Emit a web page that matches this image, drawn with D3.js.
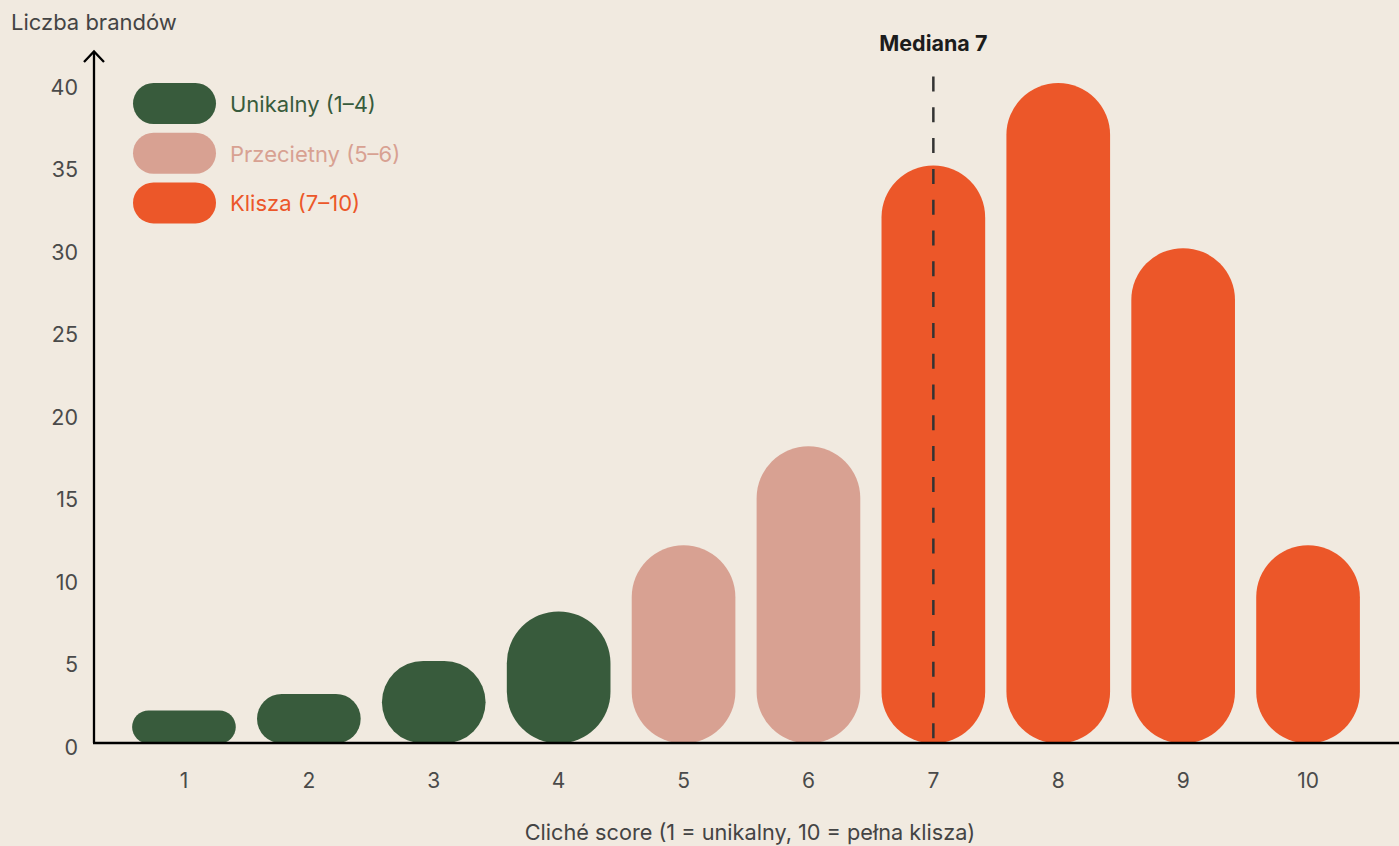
<!DOCTYPE html>
<html>
<head>
<meta charset="utf-8">
<script src="https://cdn.jsdelivr.net/npm/d3@7"></script>
<style>
  html, body { margin: 0; padding: 0; background: #F1EAE0; }
  svg { display: block; font-family: Inter, "Noto Sans", sans-serif; }
</style>
</head>
<body>
<svg id="chart" width="1399" height="846"></svg>
<script>
// Distribution of brands by cliché score
const scores = [1, 2, 3, 4, 5, 6, 7, 8, 9, 10];
const brandCounts = [2, 3, 5, 8, 12, 18, 35, 40, 30, 12];
const yTicks = [0, 5, 10, 15, 20, 25, 30, 35, 40];
const medianScore = 7;

const groups = [
  { name: "Unikalny (1–4)", from: 1, to: 4, fill: "#385B3C", text: "#385B3C" },
  { name: "Przecietny (5–6)", from: 5, to: 6, fill: "#D8A192", text: "#D8A192" },
  { name: "Klisza (7–10)", from: 7, to: 10, fill: "#EC5729", text: "#EC5729" }
];

const data = scores.map((s, i) => ({ score: s, count: brandCounts[i] }));
const groupOf = s => groups.find(g => s >= g.from && s <= g.to);

const svg = d3.select("#chart");
const W = 1399, H = 846;
const axisX = 94, axisY = 743;

const x = d3.scaleBand()
  .domain(scores)
  .range([121.5, 1370.5])
  .paddingInner(0.17)
  .paddingOuter(0.085);

const y = d3.scaleLinear().domain([0, 40]).range([743.5, 83]);

// Bars: pill-shaped rectangles
svg.append("g")
  .selectAll("rect")
  .data(data)
  .join("rect")
  .attr("x", d => x(d.score))
  .attr("width", x.bandwidth())
  .attr("y", d => y(d.count))
  .attr("height", d => y(0) - y(d.count))
  .attr("rx", d => Math.min(x.bandwidth(), y(0) - y(d.count)) / 2)
  .attr("fill", d => groupOf(d.score).fill);

// Median marker
const mx = x(medianScore) + x.bandwidth() / 2;
svg.append("line")
  .attr("x1", mx).attr("x2", mx)
  .attr("y1", 76.5).attr("y2", axisY)
  .attr("stroke", "#333")
  .attr("stroke-width", 2.5)
  .attr("stroke-dasharray", "15 15.8");
svg.append("text")
  .attr("x", mx).attr("y", 43)
  .attr("text-anchor", "middle")
  .attr("dominant-baseline", "central")
  .attr("font-size", 21.5)
  .attr("font-weight", 700)
  .attr("fill", "#1c1c1c")
  .text("Mediana " + medianScore);

// Y axis ticks (labels only)
const yAxis = svg.append("g")
  .attr("transform", `translate(${axisX},0)`)
  .call(d3.axisLeft(y).tickValues(yTicks).tickSize(0).tickPadding(16));
yAxis.select(".domain").remove();
yAxis.selectAll("text")
  .attr("font-family", "Inter, sans-serif")
  .attr("font-size", 21.5)
  .attr("fill", "#4a4a4a")
  .attr("dy", null)
  .attr("dominant-baseline", "central")
  .attr("transform", "translate(0,3)");

// X axis ticks (labels only)
const xAxis = svg.append("g")
  .attr("transform", `translate(0,${axisY})`)
  .call(d3.axisBottom(x).tickSize(0).tickPadding(0));
xAxis.select(".domain").remove();
xAxis.selectAll("text")
  .attr("font-family", "Inter, sans-serif")
  .attr("font-size", 21)
  .attr("fill", "#4a4a4a")
  .attr("y", 37)
  .attr("dy", null)
  .attr("dominant-baseline", "central");

// Axis lines with arrow on the vertical axis
svg.append("line")
  .attr("x1", axisX - 1).attr("x2", W)
  .attr("y1", axisY).attr("y2", axisY)
  .attr("stroke", "#000").attr("stroke-width", 2.6);
svg.append("line")
  .attr("x1", axisX).attr("x2", axisX)
  .attr("y1", axisY).attr("y2", 52)
  .attr("stroke", "#000").attr("stroke-width", 2.3);
svg.append("path")
  .attr("d", `M${axisX - 10},${62} L${axisX},${51.5} L${axisX + 10},${62}`)
  .attr("fill", "none")
  .attr("stroke", "#000").attr("stroke-width", 2.3);

// Axis titles
svg.append("text")
  .attr("x", 11).attr("y", 22)
  .attr("dominant-baseline", "central")
  .attr("font-size", 22)
  .attr("fill", "#444")
  .text("Liczba brandów");
svg.append("text")
  .attr("x", 750).attr("y", 832)
  .attr("text-anchor", "middle")
  .attr("dominant-baseline", "central")
  .attr("font-size", 21.7)
  .attr("fill", "#444")
  .text("Cliché score (1 = unikalny, 10 = pełna klisza)");

// Legend
const legend = svg.append("g").attr("transform", "translate(133,83)");
const item = legend.selectAll("g")
  .data(groups)
  .join("g")
  .attr("transform", (d, i) => `translate(0,${i * 49.7})`);
item.append("rect")
  .attr("width", 83).attr("height", 41)
  .attr("rx", 20.5)
  .attr("fill", d => d.fill);
item.append("text")
  .attr("x", 97).attr("y", 21)
  .attr("dominant-baseline", "central")
  .attr("font-size", 22)
  .attr("fill", d => d.text)
  .text(d => d.name);
</script>
</body>
</html>
